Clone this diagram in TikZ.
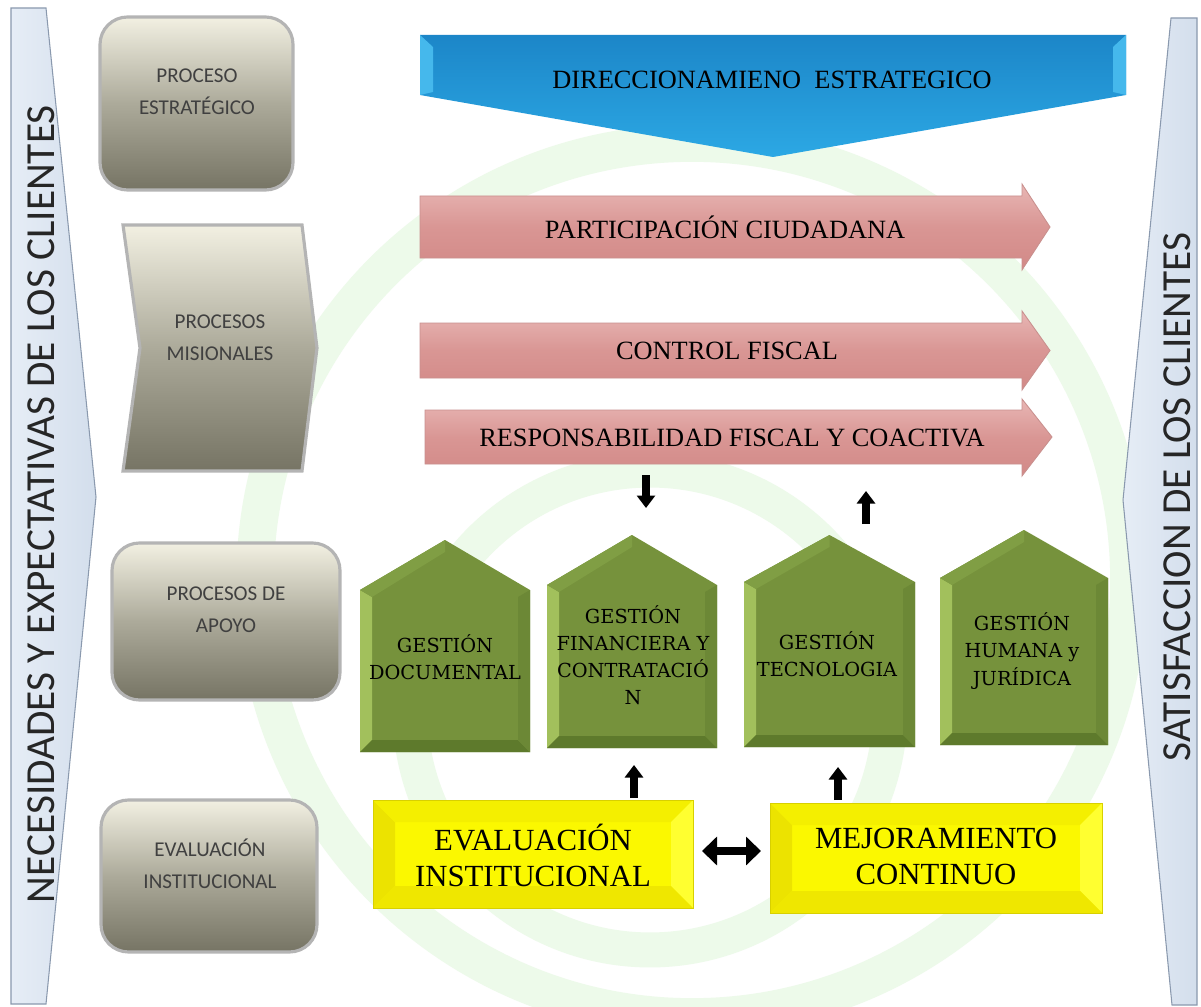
\documentclass[tikz,border=0pt]{standalone}
\usepackage{fontspec}
\setmainfont{Liberation Serif}
\newfontfamily\calib{Carlito}
\newfontfamily\dvserif{DejaVu Serif}
\usetikzlibrary{arrows.meta}
\definecolor{gtop}{HTML}{F2F0E2}
\definecolor{gmid}{HTML}{ACAA9A}
\definecolor{gbot}{HTML}{767464}
\definecolor{boxedge}{HTML}{B4B4B4}
\definecolor{txtgray}{HTML}{404040}
\definecolor{sidel}{HTML}{E6EDF6}
\definecolor{sider}{HTML}{D3DEEC}
\definecolor{sideedge}{HTML}{8A99AE}
\definecolor{sidetext}{HTML}{262626}
\definecolor{pinktop}{HTML}{E8B6B4}
\definecolor{pinkmid}{HTML}{D99694}
\definecolor{pinkbot}{HTML}{D28987}
\definecolor{pinkedge}{HTML}{C9908E}
\definecolor{bluetop}{HTML}{1C86C8}
\definecolor{bluebot}{HTML}{2CA8E4}
\definecolor{bluelight}{HTML}{45B8EC}
\definecolor{hgreen}{HTML}{76923C}
\definecolor{hlight}{HTML}{A2C05C}
\definecolor{hdark}{HTML}{5E7A2C}
\definecolor{hmid}{HTML}{6C8836}
\definecolor{hroof}{HTML}{809E44}
\definecolor{ymain}{HTML}{FBF800}
\definecolor{yleft}{HTML}{ECE300}
\definecolor{ytop}{HTML}{F4EF00}
\definecolor{yright}{HTML}{FFFF30}
\definecolor{ybot}{HTML}{EFE700}
\definecolor{yedge}{HTML}{D8D000}
\definecolor{wmark}{HTML}{EDFAEA}
\newcommand\hausgreen[5]{%
  \pgfmathsetmacro\hm{(#1+#2)/2}
  \fill[hgreen] (#1,#4) -- (\hm,#3) -- (#2,#4) -- (#2,#5) -- (#1,#5) -- cycle;
  \fill[hlight] (#1,#4) -- ({#1+12},{#4+7}) -- ({#1+12},{#5-12}) -- (#1,#5) -- cycle;
  \fill[hdark] (#1,#5) -- ({#1+12},{#5-12}) -- ({#2-12},{#5-12}) -- (#2,#5) -- cycle;
  \fill[hmid] (#2,#4) -- (#2,#5) -- ({#2-12},{#5-12}) -- ({#2-12},{#4+7}) -- cycle;
  \fill[hroof] (#1,#4) -- (\hm,#3) -- (\hm,{#3+12}) -- ({#1+12},{#4+7}) -- cycle;
}
\newcommand\yellowbox[4]{%
  \fill[ymain] (#1,#2) rectangle (#3,#4);
  \fill[yleft] (#1,#2) -- ({#1+22},{#2+22}) -- ({#1+22},{#4-22}) -- (#1,#4) -- cycle;
  \fill[ytop] (#1,#2) -- (#3,#2) -- ({#3-22},{#2+22}) -- ({#1+22},{#2+22}) -- cycle;
  \fill[yright] (#3,#2) -- (#3,#4) -- ({#3-22},{#4-22}) -- ({#3-22},{#2+22}) -- cycle;
  \fill[ybot] (#1,#4) -- (#3,#4) -- ({#3-22},{#4-22}) -- ({#1+22},{#4-22}) -- cycle;
  \draw[yedge, line width=0.5pt] (#1,#2) rectangle (#3,#4);
}
\begin{document}
\begin{tikzpicture}[x=0.02cm,y=-0.02cm,
  graybox/.style={draw=boxedge, line width=1.8pt, top color=gtop, bottom color=gbot, middle color=gmid, rounded corners=0.55cm},
  graytxt/.style={font=\calib\fontsize{12}{18.2}\selectfont, text=txtgray, align=center},
  sidebar/.style={draw=sideedge, line width=0.6pt, left color=sidel, right color=sider},
  sidetxt/.style={font=\calib\fontsize{23.5}{28}\selectfont, text=sidetext, rotate=90, inner sep=0pt},
  pinkarrow/.style={draw=pinkedge, line width=0.5pt, top color=pinktop, bottom color=pinkbot, middle color=pinkmid},
  serif15/.style={font=\fontsize{15}{18}\selectfont, inner sep=0pt},
  housetxt/.style={font=\dvserif\fontsize{11}{15.4}\selectfont, align=center, inner sep=0pt},
  yelltxt/.style={font=\fontsize{17.5}{20.5}\selectfont, align=center, inner sep=0pt},
  blk/.style={line width=4.5pt, -{Triangle[width=0.36cm,length=0.25cm]}},
  dblk/.style={line width=5pt, {Triangle[width=0.56cm,length=0.3cm]}-{Triangle[width=0.56cm,length=0.3cm]}}
]
\useasboundingbox (0,0) rectangle (1201,1007);
\fill[white] (0,0) rectangle (1201,1007);
% watermark rings
\begin{scope}
  \clip (0,0) rectangle (1201,1007);
  \draw[wmark, line width=0.75cm] (692,580) circle[radius=8.74cm];
  \draw[wmark, line width=0.7cm] (650,710) circle[radius=4.8cm];
\end{scope}
% side bars
\path[sidebar] (11,8) -- (46,8) -- (96,497) -- (46,1004) -- (11,1004) -- cycle;
\path[sidebar] (1171,18) -- (1197,18) -- (1197,1005) -- (1172,1005) -- (1123,500) -- cycle;
\node[sidetxt] (nec) at (41,504) {NECESIDADES Y EXPECTATIVAS DE LOS CLIENTES};
\node[sidetxt] (sat) at (1177,497) {SATISFACCION DE LOS CLIENTES};
% gray process boxes
\path[graybox] (100,17) rectangle (293,190);
\node[graytxt] (pe) at (197,92) {PROCESO\\ESTRATÉGICO};
\path[graybox, rounded corners=0pt] (123,225) -- (302,225) -- (317,348) -- (302,471) -- (123,471) -- (140,348) -- cycle;
\node[graytxt] (pm) at (220,338) {PROCESOS\\MISIONALES};
\path[graybox] (112,543) rectangle (340,700);
\node[graytxt] (pa) at (226,610) {PROCESOS DE\\APOYO};
\path[graybox] (101,800) rectangle (317,952);
\node[graytxt] (ei) at (210,864) {EVALUACIÓN\\INSTITUCIONAL};
% blue strategic shape
\path[top color=bluetop, bottom color=bluebot] (420,35) -- (1126,35) -- (1126,95) -- (773,157) -- (420,95) -- cycle;
\fill[bluelight] (420,35) -- (433,47) -- (433,92) -- (420,95) -- cycle;
\fill[bluelight] (1126,35) -- (1113,47) -- (1113,92) -- (1126,95) -- cycle;
\node[serif15] (dir) at (772,80) {DIRECCIONAMIENO\ \ ESTRATEGICO};
% pink arrows
\path[pinkarrow] (420,196) -- (1022,196) -- (1022,184) -- (1050,227) -- (1022,270) -- (1022,258) -- (420,258) -- cycle;
\node[serif15] (pc) at (725,227) {PARTICIPACIÓN CIUDADANA};
\path[pinkarrow] (420,323) -- (1022,323) -- (1022,311) -- (1050,350.5) -- (1022,390) -- (1022,378) -- (420,378) -- cycle;
\node[serif15] (cf) at (727,351) {CONTROL FISCAL};
\path[pinkarrow] (425,410) -- (1022,410) -- (1022,399) -- (1052,437) -- (1022,476) -- (1022,464) -- (425,464) -- cycle;
\node[serif15] (rf) at (732,438) {RESPONSABILIDAD FISCAL Y COACTIVA};
% green houses
\hausgreen{360}{530}{540}{590}{752}
\node[housetxt] (gd) at (445,657) {GESTIÓN\\DOCUMENTAL};
\hausgreen{547}{717}{535}{585}{748}
\node[housetxt] (gf) at (633,655) {GESTIÓN\\FINANCIERA Y\\CONTRATACIÓ\\N};
\hausgreen{744}{915}{535}{582}{747}
\node[housetxt] (gt) at (827,654) {GESTIÓN\\TECNOLOGIA};
\hausgreen{940}{1108}{530}{578}{745}
\node[housetxt] (gh) at (1022,651) {GESTIÓN\\HUMANA y\\JURÍDICA};
% yellow boxes
\yellowbox{373}{800}{693}{908}
\node[yelltxt] (ev) at (533,855) {EVALUACIÓN\\INSTITUCIONAL};
\yellowbox{770}{803}{1102}{913}
\node[yelltxt] (mc) at (936,856) {MEJORAMIENTO\\CONTINUO};
% black arrows
\coordinate (d1s) at (646,475); \coordinate (d1e) at (646,508);
\draw[blk] (d1s) -- (d1e);
\coordinate (u1s) at (866,524); \coordinate (u1e) at (866,491);
\draw[blk] (u1s) -- (u1e);
\coordinate (u2s) at (634,798); \coordinate (u2e) at (634,765);
\draw[blk] (u2s) -- (u2e);
\coordinate (u3s) at (838,800); \coordinate (u3e) at (838,767);
\draw[blk] (u3s) -- (u3e);
\coordinate (hl) at (702,851); \coordinate (hr) at (761,851);
\draw[dblk] (hl) -- (hr);
\end{tikzpicture}
\end{document}
